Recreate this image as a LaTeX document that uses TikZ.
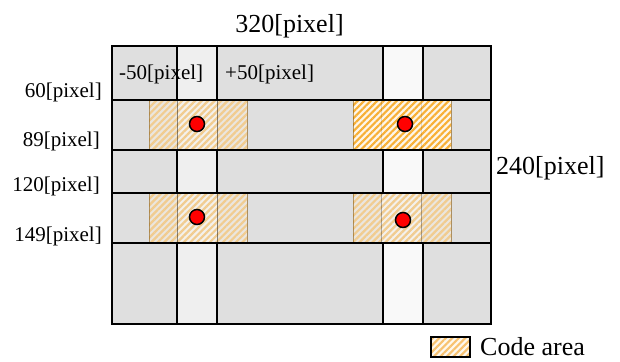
\documentclass[tikz,border=0pt]{standalone}
\usepackage{fontspec}
\setmainfont{Liberation Serif}
\usetikzlibrary{patterns.meta}
\definecolor{cellgray}{HTML}{DFDFDF}
\definecolor{stripA}{HTML}{EFEFEF}
\definecolor{stripB}{HTML}{F9F9F9}
\definecolor{codeorange}{HTML}{F5A623}
% stripe and gap shades of the hatched code areas
\definecolor{paleStripe}{HTML}{F1CC90}
\definecolor{paleGap}{HTML}{EBE6DE}
\definecolor{paleGapMid}{HTML}{F4F1EC}
\definecolor{deepStripe}{HTML}{F8B036}
\definecolor{deepGap}{HTML}{FDF6EA}
\definecolor{keyStripe}{HTML}{F8C270}
\definecolor{keyGap}{HTML}{FEF8EE}
\tikzset{
  grid/.style={line width=1.8pt, black},
  codebase/.style={fill=#1},
  codehatch/.style={pattern={Lines[angle=45,distance=4.6pt,line width=2.2pt]}, pattern color=#1},
  codeborder/.style={draw=black!45!codeorange, line width=0.8pt, draw opacity=0.6},
  faint/.style={draw=black, line width=1pt, draw opacity=#1},
  dot/.style={circle, fill=red, draw=black, line width=1.5pt, minimum size=15pt, inner sep=0pt},
  big/.style={font=\fontsize{26}{30}\selectfont, inner sep=0pt},
  small/.style={font=\fontsize{21}{25}\selectfont, inner sep=0pt},
}
\begin{document}
\begin{tikzpicture}[x=1pt,y=-1pt]
\useasboundingbox (0,0) rectangle (620,361);
% background of the frame and the two light strips
\fill[cellgray] (112,46) rectangle (491,324);
\fill[stripA] (177,46) rectangle (217,324);
\fill[stripB] (383,46) rectangle (423,324);
% the four code areas: x, y, gap shade, gap shade over the strip, stripe shade, strip-edge shade
\foreach \x/\y/\g/\m/\s/\e in {149/100/paleGap/paleGapMid/paleStripe/0.45,
                               353/100/deepGap/deepGap/deepStripe/0.12,
                               149/193/paleGap/paleGapMid/paleStripe/0.45,
                               353/193/paleGap/paleGapMid/paleStripe/0.3} {
  \path[codebase=\g] (\x,\y) rectangle ++(98,50);
  \path[codebase=\m] (\x+28,\y) rectangle ++(40,50);
  \path[codehatch=\s] (\x,\y) rectangle ++(98,50);
  \draw[faint=\e] (\x+28,\y) -- ++(0,50) (\x+68,\y) -- ++(0,50);
  \draw[codeborder] (\x,\y) rectangle ++(98,50);
}
% grid lines
\foreach \y in {100,150,193,243} \draw[grid] (112,\y) -- (491,\y);
\foreach \x in {177,217,383,423} {
  \draw[grid] (\x,46) -- (\x,100);
  \draw[grid] (\x,150) -- (\x,193);
  \draw[grid] (\x,243) -- (\x,324);
}
\draw[grid] (112,46) rectangle (491,324);
% centre points
\node[dot] (p1) at (197,124) {};
\node[dot] (p2) at (405,124) {};
\node[dot] (p3) at (197,217) {};
\node[dot] (p4) at (403,220) {};
% labels
\node[big, anchor=base] (w) at (289.5,33) {320[pixel]};
\node[big, anchor=base west] (h) at (496,174) {240[pixel]};
\node[small, anchor=base west] (m50) at (119,79) {-50[pixel]};
\node[small, anchor=base west] (p50) at (225,79) {+50[pixel]};
\node[small, anchor=base east] (y60) at (102,97) {60[pixel]};
\node[small, anchor=base east] (y89) at (100,146) {89[pixel]};
\node[small, anchor=base east] (y120) at (100,191) {120[pixel]};
\node[small, anchor=base east] (y149) at (102,241) {149[pixel]};
% legend
\path[codebase=keyGap] (431,337) rectangle (470,357);
\path[codehatch=keyStripe] (431,337) rectangle (470,357);
\draw[black, line width=1.2pt] (431,337) rectangle (470,357);
\node[big, anchor=base west] (leg) at (480,355) {Code area};
\end{tikzpicture}
\end{document}
